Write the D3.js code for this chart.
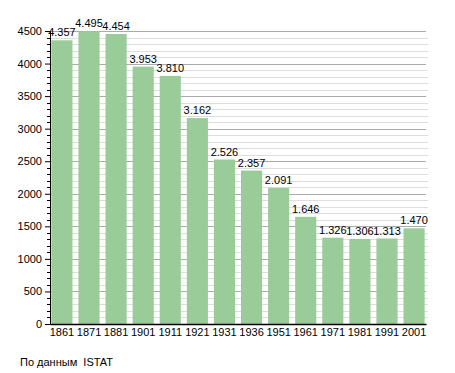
<!DOCTYPE html>
<html>
<head>
<meta charset="utf-8">
<script src="https://cdn.jsdelivr.net/npm/d3@7"></script>
<style>
  body { margin: 0; background: #fff; }
  text { font-family: "Liberation Sans", Arial, sans-serif; fill: #000; }
</style>
</head>
<body>
<svg id="chart" width="455" height="373"></svg>
<script>
const years = ['1861', '1871', '1881', '1901', '1911', '1921', '1931', '1936', '1951', '1961', '1971', '1981', '1991', '2001'];
const population = [4357, 4495, 4454, 3953, 3810, 3162, 2526, 2357, 2091, 1646, 1326, 1306, 1313, 1470];
const yTicks = [0, 500, 1000, 1500, 2000, 2500, 3000, 3500, 4000, 4500];
const source = 'По данным  ISTAT';

const padding = { top: 31, left: 50, right: 29, bottom: 49 };
const width = 455 - padding.left - padding.right;
const height = 373 - padding.top - padding.bottom;

const svg = d3.select('#chart');
const chart = svg.append('g')
  .attr('transform', `translate(${padding.left}, ${padding.top})`);

const x = d3.scaleBand()
  .domain(years)
  .range([0, width])
  .paddingInner(0.22)
  .paddingOuter(0.05);

const y = d3.scaleLinear()
  .domain([0, 4500])
  .range([height, 0]);

// minor grid every 100
const minor = d3.range(100, 4600, 100).filter(v => v % 500 !== 0);
chart.append('g')
  .selectAll('line')
  .data(minor)
  .join('line')
  .attr('x1', 0).attr('x2', width + 2)
  .attr('y1', d => Math.round(y(d)) + 0.5).attr('y2', d => Math.round(y(d)) + 0.5)
  .attr('stroke', '#dedede');

chart.append('g')
  .selectAll('line')
  .data(yTicks.filter(v => v > 0))
  .join('line')
  .attr('x1', 0).attr('x2', width)
  .attr('y1', d => Math.round(y(d)) + 0.5).attr('y2', d => Math.round(y(d)) + 0.5)
  .attr('stroke', '#aaaaaa');

// bars
chart.selectAll('.bar')
  .data(years.map((yr, i) => ({ year: yr, value: population[i] })))
  .join('rect')
  .classed('bar', true)
  .attr('x', d => x(d.year))
  .attr('width', x.bandwidth())
  .attr('y', d => y(d.value))
  .attr('height', d => height - y(d.value))
  .attr('fill', '#99cc99');

const fmt = v => d3.format(',')(v).replace(/,/g, '.');

chart.selectAll('.label')
  .data(years.map((yr, i) => ({ year: yr, value: population[i] })))
  .join('text')
  .classed('label', true)
  .attr('x', d => x(d.year) + x.bandwidth() / 2)
  .attr('y', d => y(d.value) - 4)
  .attr('text-anchor', 'middle')
  .attr('font-size', 11)
  .text(d => fmt(d.value));

// y axis with minor ticks
const yAxis = chart.append('g')
  .call(d3.axisLeft(y).tickValues(yTicks).tickFormat(d3.format('d')).tickSize(5).tickPadding(3));
yAxis.select('.domain').attr('stroke', '#000');
yAxis.selectAll('text').attr('font-size', 11).attr('font-family', null);
chart.append('g')
  .selectAll('line')
  .data(minor)
  .join('line')
  .attr('x1', -3).attr('x2', 0)
  .attr('y1', d => Math.round(y(d)) + 0.5).attr('y2', d => Math.round(y(d)) + 0.5)
  .attr('stroke', '#000');

// x axis
const xAxis = chart.append('g')
  .attr('transform', `translate(0, ${height})`)
  .call(d3.axisBottom(x).tickSize(0).tickPadding(4));
xAxis.select('.domain').attr('stroke', '#000').attr('stroke-width', 1.5);
xAxis.selectAll('text').attr('font-size', 11).attr('font-family', null);

svg.append('text')
  .attr('x', 20)
  .attr('y', 366)
  .attr('font-size', 11)
  .text(source)
  .style('white-space', 'pre');
</script>
</body>
</html>
